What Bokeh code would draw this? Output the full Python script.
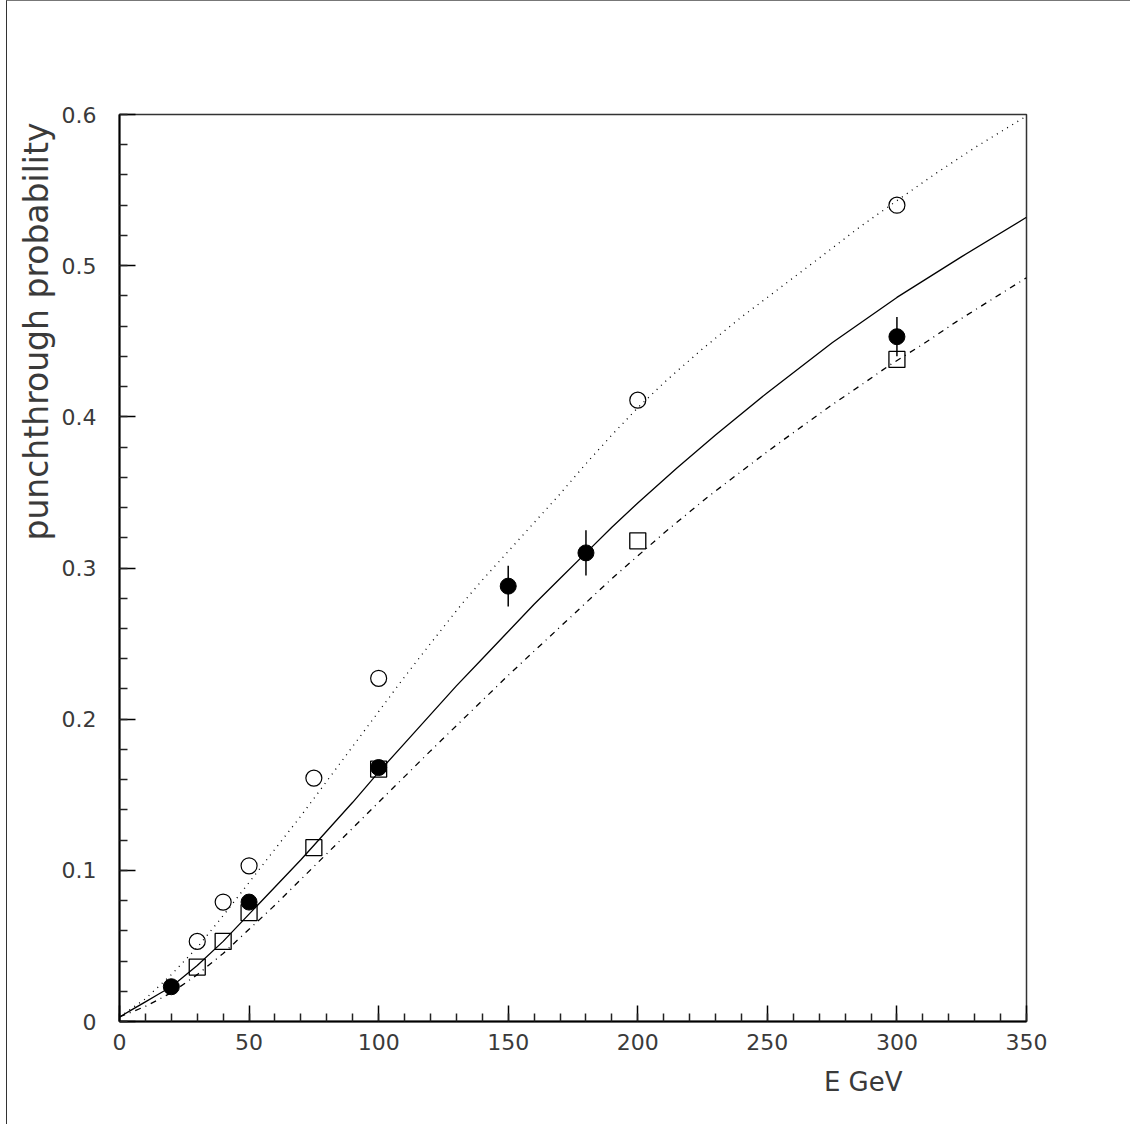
from bokeh.plotting import figure
from bokeh.models import Range1d, FixedTicker, Title
from bokeh.embed import file_html
from bokeh.resources import INLINE

# ---- data ----
E_filled = [20, 50, 100, 150, 180, 300]
P_filled = [0.023, 0.079, 0.168, 0.288, 0.310, 0.453]
ERR_filled = [0.003, 0.004, 0.005, 0.0135, 0.015, 0.013]

E_open = [30, 40, 50, 75, 100, 200, 300]
P_open = [0.053, 0.079, 0.103, 0.161, 0.227, 0.411, 0.540]

E_square = [30, 40, 50, 75, 100, 200, 300]
P_square = [0.036, 0.053, 0.072, 0.115, 0.167, 0.318, 0.438]

# solid curve (fit to filled circles)
E_solid = [0, 5, 10, 15, 20, 30, 40, 50, 60, 70, 80, 90, 100, 110, 120, 130,
           140, 150, 160, 170, 180, 190, 200, 215, 230, 250, 275, 300, 325, 350]
P_solid = [0.003, 0.008, 0.013, 0.018, 0.023, 0.037, 0.053, 0.071, 0.089,
           0.107, 0.126, 0.145, 0.165, 0.184, 0.203, 0.222, 0.240, 0.258,
           0.276, 0.293, 0.310, 0.327, 0.343, 0.366, 0.388, 0.416, 0.449,
           0.479, 0.506, 0.532]

# dotted curve (fit to open circles)
E_dot = [0, 10, 20, 30, 40, 50, 60, 70, 80, 90, 100, 110, 120, 132, 140, 150,
         160, 170, 180, 190, 200, 211, 225, 240, 250, 270, 286, 300, 315, 330, 350]
P_dot = [0.003, 0.015, 0.031, 0.049, 0.070, 0.092, 0.114, 0.136, 0.159, 0.182,
         0.205, 0.228, 0.250, 0.276, 0.292, 0.311, 0.330, 0.349, 0.369, 0.388,
         0.406, 0.424, 0.445, 0.466, 0.479, 0.505, 0.526, 0.543, 0.561, 0.578,
         0.599]

# dash-dot curve (fit to open squares)
E_dd = [0, 10, 20, 30, 40, 50, 60, 70, 80, 90, 100, 110, 120, 135, 150, 160,
        170, 180, 190, 200, 210, 227, 240, 250, 262, 275, 287, 297, 310, 323,
        336, 350]
P_dd = [0.003, 0.010, 0.019, 0.031, 0.045, 0.061, 0.077, 0.094, 0.111, 0.128,
        0.145, 0.162, 0.179, 0.204, 0.229, 0.245, 0.261, 0.277, 0.293, 0.308,
        0.323, 0.347, 0.364, 0.377, 0.392, 0.408, 0.422, 0.434, 0.448, 0.463,
        0.477, 0.492]

X_TICKS = [0, 50, 100, 150, 200, 250, 300, 350]
X_MINOR = list(range(0, 351, 10))
Y_TICKS = [0.0, 0.1, 0.2, 0.3, 0.4, 0.5, 0.6]
Y_MINOR = [0.0, 0.02, 0.04, 0.06, 0.08, 0.1, 0.12, 0.14, 0.16, 0.18, 0.2,
           0.22, 0.24, 0.26, 0.28, 0.3, 0.32, 0.34, 0.36, 0.38, 0.4, 0.42,
           0.44, 0.46, 0.48, 0.5, 0.52, 0.54, 0.56, 0.58, 0.6]

X_LABEL = "E GeV"
Y_LABEL = "punchthrough probability"

FONT = "DejaVu Sans"
TXT = "#3a3a3a"

p = figure(width=1124, height=1124, output_backend="svg", toolbar_location=None,
           x_range=Range1d(0, 350), y_range=Range1d(0, 0.6),
           min_border_left=112, min_border_right=105,
           min_border_top=113, min_border_bottom=104)
p.styles = {"margin-left": "6px", "border-left": "1px solid #333",
            "border-top": "1px solid #777"}

p.xgrid.visible = False
p.ygrid.visible = False
p.background_fill_color = "white"
p.border_fill_color = "white"
p.outline_line_color = "#333333"
p.outline_line_width = 1.5
p.outline_line_alpha = 1.0

p.xaxis.ticker = FixedTicker(ticks=X_TICKS, minor_ticks=X_MINOR)
p.yaxis.ticker = FixedTicker(ticks=Y_TICKS, minor_ticks=Y_MINOR)
for ax in (p.xaxis, p.yaxis):
    ax.axis_line_color = "black"
    ax.axis_line_width = 2
    ax.major_tick_in = 16
    ax.major_tick_out = 0
    ax.minor_tick_in = 8
    ax.minor_tick_out = 0
    ax.major_tick_line_color = "black"
    ax.major_tick_line_width = 1.5
    ax.minor_tick_line_color = "#222222"
    ax.minor_tick_line_width = 1.5
    ax.major_label_text_font = FONT
    ax.major_label_text_font_size = "22px"
    ax.major_label_text_color = TXT
p.xaxis.major_label_standoff = 12
p.yaxis.major_label_standoff = 23
p.yaxis.major_label_overrides = {0: "0", 0.1: "0.1", 0.2: "0.2", 0.3: "0.3",
                                 0.4: "0.4", 0.5: "0.5", 0.6: "0.6"}
p.xaxis.major_label_overrides = {0: "0"}

# curves
p.line(E_solid, P_solid, line_color="black", line_width=1.3)
p.line(E_dot, P_dot, line_color="black", line_width=1.3, line_dash="1 5")
p.line(E_dd, P_dd, line_color="black", line_width=1.3, line_dash="6 5 1 5")

# error bars
lo = [v - e for v, e in zip(P_filled, ERR_filled)]
hi = [v + e for v, e in zip(P_filled, ERR_filled)]
p.segment(x0=E_filled, y0=lo, x1=E_filled, y1=hi, line_color="black", line_width=1.5)

# markers
p.scatter(E_open, P_open, marker="circle", size=16, fill_color=None,
          line_color="black", line_width=1.2)
p.scatter(E_square, P_square, marker="square", size=16, fill_color=None,
          line_color="black", line_width=1.3)
p.scatter(E_filled, P_filled, marker="circle", size=16, fill_color="black",
          line_color="black", line_width=1)

# axis titles
p.add_layout(Title(text=Y_LABEL, align="right", offset=8, standoff=6,
                   text_font=FONT, text_font_size="33px",
                   text_font_style="normal", text_color=TXT), "left")
p.add_layout(Title(text=X_LABEL, align="right", offset=124, standoff=24,
                   text_font=FONT, text_font_size="26px",
                   text_font_style="normal", text_color=TXT), "below")

open("out.html", "w").write(file_html(p, INLINE))
